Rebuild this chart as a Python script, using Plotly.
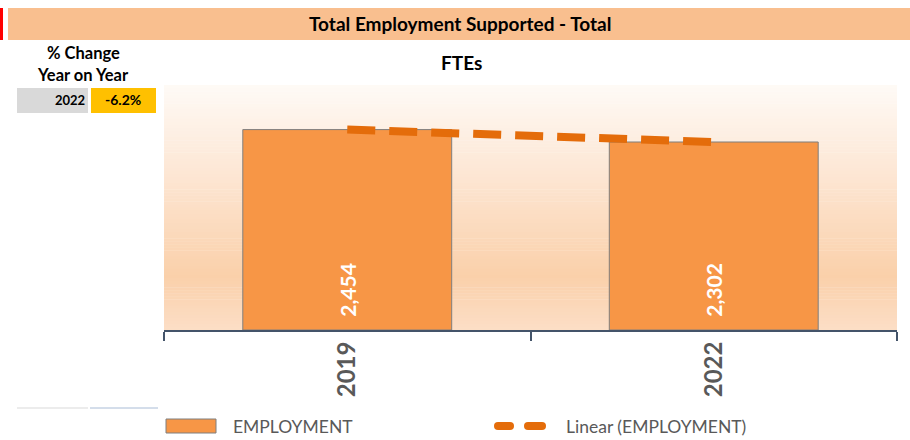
import numpy as np
import plotly.graph_objects as go

# ---- data ----
categories = ["2019", "2022"]
employment = [2454, 2302]
chart_title = "Total Employment Supported - Total"
subtitle = "FTEs"
series_name = "EMPLOYMENT"
trend_name = "Linear (EMPLOYMENT)"

# trend line (linear fit over category index)
idx = np.arange(len(employment))
coef = np.polyfit(idx, employment, 1)
trend = list(np.polyval(coef, idx))

pct_change = (employment[-1] - employment[0]) / employment[0] * 100
pct_text = f"{pct_change:.1f}%"

# ---- layout geometry ----
W, H = 910, 440
L, R, T, B = 164, 13, 85, 110
PW, PH = W - L - R, H - T - B


def px(x):
    return (x - L) / PW


def py(y):
    return (H - B - y) / PH


FONT = "Lato"
GREY = "#595959"
NB = "\u00a0"

fig = go.Figure()
fig.add_trace(go.Bar(
    x=categories, y=employment, name=series_name,
    marker=dict(color="#F79646", line=dict(color="#7F7F7F", width=1)),
    texttemplate=NB * 2 + "%{y:,}", textposition="inside", insidetextanchor="start",
    textangle=-90, textfont=dict(family=FONT, size=21, color="white", weight="bold"),
    showlegend=False,
))
fig.add_trace(go.Scatter(
    x=categories, y=trend, mode="lines", name=trend_name,
    line=dict(color="#E46C0A", width=8, dash="28px,14px"),
    showlegend=False, hoverinfo="skip",
))

shapes = []
# gradient plot background
stops = [(0.0, (254, 250, 246)), (0.35, (253, 231, 213)), (0.78, (250, 208, 170)), (1.0, (252, 222, 198))]
n = 80
for i in range(n):
    f = (i + 0.5) / n
    for j in range(len(stops) - 1):
        if stops[j][0] <= f <= stops[j + 1][0]:
            a, b = stops[j], stops[j + 1]
            t = (f - a[0]) / (b[0] - a[0])
            c = tuple(int(round(a[1][k] + (b[1][k] - a[1][k]) * t)) for k in range(3))
            break
    shapes.append(dict(type="rect", xref="x domain", yref="y domain",
                       x0=0, x1=1, y0=1 - i / n, y1=1 - (i + 1) / n - 0.002,
                       fillcolor=f"rgb{c}", line=dict(width=0), layer="below"))

# title bar
shapes.append(dict(type="rect", xref="paper", yref="paper", x0=px(8), x1=px(910), y0=py(40), y1=py(8),
                   fillcolor="#F9BF8F", line=dict(width=0)))
shapes.append(dict(type="rect", xref="paper", yref="paper", x0=px(0), x1=px(3), y0=py(40), y1=py(8),
                   fillcolor="#FF0000", line=dict(width=0)))
# left table cells
shapes.append(dict(type="rect", xref="paper", yref="paper", x0=px(17), x1=px(88), y0=py(113), y1=py(88),
                   fillcolor="#D9D9D9", line=dict(width=0)))
shapes.append(dict(type="rect", xref="paper", yref="paper", x0=px(91), x1=px(156), y0=py(113), y1=py(88),
                   fillcolor="#FFC000", line=dict(width=0)))
shapes.append(dict(type="line", xref="paper", yref="paper", x0=px(17), x1=px(88), y0=py(408), y1=py(408),
                   line=dict(color="#D9D9D9", width=1)))
shapes.append(dict(type="line", xref="paper", yref="paper", x0=px(90), x1=px(158), y0=py(408), y1=py(408),
                   line=dict(color="#A9BCD6", width=1)))
# manual legend
shapes.append(dict(type="rect", xref="paper", yref="paper", x0=px(166), x1=px(216), y0=py(433), y1=py(419),
                   fillcolor="#F79646", line=dict(color="#7F7F7F", width=1)))
for (a0, a1) in [(498, 510), (528, 542)]:
    shapes.append(dict(type="line", xref="paper", yref="paper", x0=px(a0), x1=px(a1), y0=py(426), y1=py(426),
                       line=dict(color="#E46C0A", width=8)))
for cx in [498, 510, 528, 542]:
    shapes.append(dict(type="circle", xref="paper", yref="paper", x0=px(cx - 4), x1=px(cx + 4),
                       y0=py(430), y1=py(422), fillcolor="#E46C0A", line=dict(width=0)))

ann = []


def add_text(text, x, y, size, color="black", bold=True, xanchor="center"):
    ann.append(dict(text=f"<b>{text}</b>" if bold else text, xref="paper", yref="paper",
                    x=px(x), y=py(y), xanchor=xanchor, yanchor="middle", showarrow=False,
                    font=dict(family=FONT, size=size, color=color)))


add_text(chart_title, 460, 24, 19)
add_text(subtitle, 461, 62, 19)
add_text("% Change", 83, 53, 16.5)
add_text("Year on Year", 83, 75, 16.5)
add_text(categories[-1], 87, 100, 13, xanchor="right")
add_text(pct_text, 123, 100, 14)
add_text(series_name, 231, 426, 17.5, color=GREY, bold=False, xanchor="left")
add_text(trend_name, 564, 426, 17.5, color=GREY, bold=False, xanchor="left")

fig.update_layout(
    width=W, height=H,
    margin=dict(l=L, r=R, t=T, b=B, pad=0),
    paper_bgcolor="white", plot_bgcolor="rgba(0,0,0,0)",
    bargap=0.43,
    showlegend=False,
    shapes=shapes, annotations=ann,
    font=dict(family=FONT),
)
fig.update_xaxes(
    type="category", showgrid=False, showline=True, linecolor="#44546A", linewidth=2,
    ticks="outside", tickson="boundaries", ticklen=9, tickwidth=1.5, tickcolor="#44546A",
    tickangle=-90, tickfont=dict(family=FONT, size=24, color=GREY, weight="bold"),
)
fig.update_yaxes(range=[0, 3000], visible=False, showgrid=False)

fig.write_html("out.html", config={"displayModeBar": False},
               post_script="document.body.style.margin='0';document.body.style.overflow='hidden';")
